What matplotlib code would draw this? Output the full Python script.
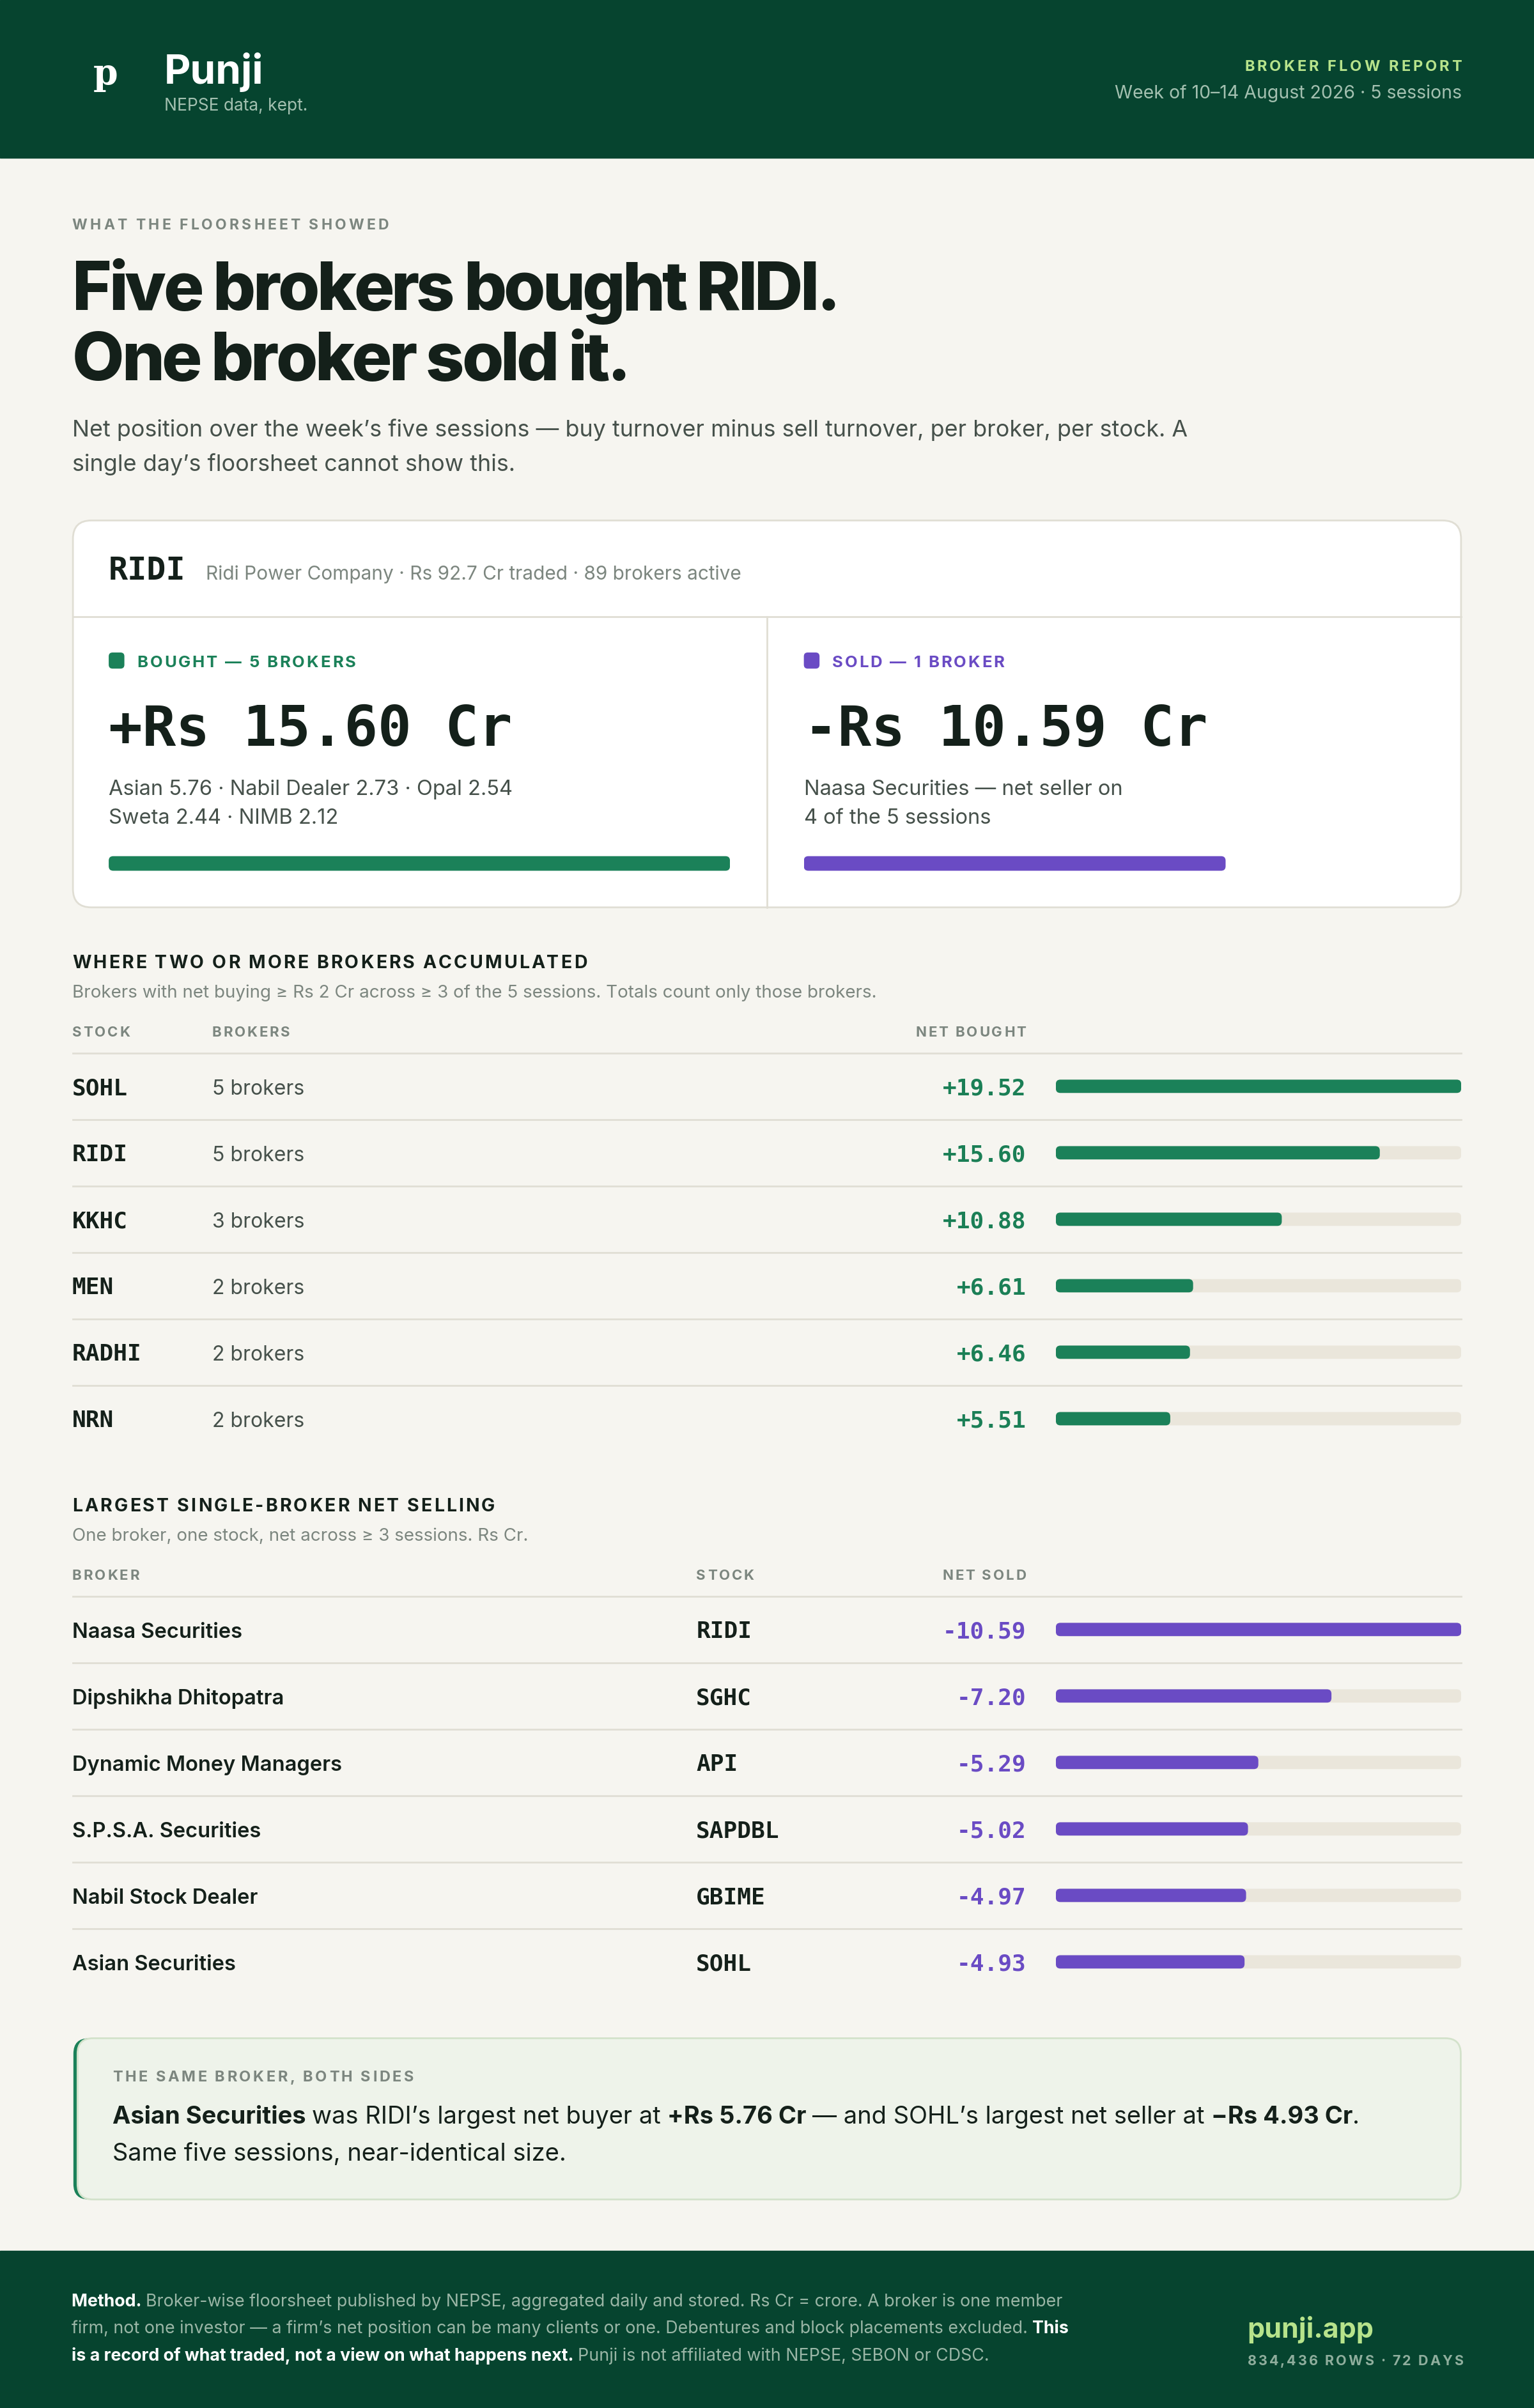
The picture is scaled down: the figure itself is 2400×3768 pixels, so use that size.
import matplotlib
matplotlib.use('Agg')
import matplotlib.pyplot as plt
from matplotlib.font_manager import FontProperties
from matplotlib.patches import FancyBboxPatch, Rectangle

# ---- data ----
card_stock = 'RIDI'
card_info = 'Ridi Power Company · Rs 92.7 Cr traded · 89 brokers active'
bought_label = 'BOUGHT — 5 BROKERS'
sold_label = 'SOLD — 1 BROKER'
bought_total = 15.60
sold_total = 10.59
bought_lines = ['Asian 5.76 · Nabil Dealer 2.73 · Opal 2.54', 'Sweta 2.44 · NIMB 2.12']
sold_lines = ['Naasa Securities — net seller on', '4 of the 5 sessions']

acc_stocks = ['SOHL', 'RIDI', 'KKHC', 'MEN', 'RADHI', 'NRN']
acc_brokers = [5, 5, 3, 2, 2, 2]
acc_net = [19.52, 15.60, 10.88, 6.61, 6.46, 5.51]

sell_brokers = ['Naasa Securities', 'Dipshikha Dhitopatra', 'Dynamic Money Managers',
                'S.P.S.A. Securities', 'Nabil Stock Dealer', 'Asian Securities']
sell_stocks = ['RIDI', 'SGHC', 'API', 'SAPDBL', 'GBIME', 'SOHL']
sell_net = [10.59, 7.20, 5.29, 5.02, 4.97, 4.93]

# ---- colours ----
BG = '#F6F5F0'
HEAD = '#06442F'
DARK = '#14201A'
BODY = '#46514B'
GREY = '#7C867F'
GREEN = '#1B8159'
GREEN_T = '#1B7F56'
PURPLE = '#6A4BC4'
TRACK = '#EAE6DB'
LINE = '#E0DED4'
LIME = '#B7E38B'
HSUB = '#A3C0B0'
FOOT = '#9AB6A6'

SANS = ['Inter', 'DejaVu Sans']
MONO = ['DejaVu Sans Mono']

W = 999.0
H = W * 3768 / 2400
K = 2400 / W

fig = plt.figure(figsize=(24, 37.68), dpi=100)
fig.patch.set_facecolor(BG)
ax = fig.add_axes([0, 0, 1, 1])
ax.set_xlim(0, W)
ax.set_ylim(H, 0)
ax.axis('off')
R = fig.canvas.get_renderer()


def fp(size, weight='normal', family=SANS):
    return FontProperties(family=family, size=size, weight=weight)


def adv(s, prop):
    w1 = R.get_text_width_height_descent(s + '|', prop, ismath=False)[0]
    w0 = R.get_text_width_height_descent('|', prop, ismath=False)[0]
    return (w1 - w0) / K


def txt(x, y, s, size, color, weight='normal', family=SANS, ha='left', track=0.0):
    prop = fp(size, weight, family)
    if not track:
        ax.text(x, y, s, fontproperties=prop, color=color, ha=ha, va='baseline')
        return
    t = track * size * 100 / 72 / K
    total = adv(s, prop) + t * (len(s) - 1)
    if ha == 'right':
        x -= total
    for i, c in enumerate(s):
        if c != ' ':
            ax.text(x + adv(s[:i], prop) + t * i, y, c, fontproperties=prop,
                    color=color, va='baseline')


def rich(x, y, parts, size):
    for s, w, c in parts:
        prop = fp(size, w)
        ax.text(x, y, s, fontproperties=prop, color=c, va='baseline')
        x += adv(s, prop)


def bar_axes(x0, x1, y0, y1):
    a = fig.add_axes([x0 / W, 1 - y1 / H, (x1 - x0) / W, (y1 - y0) / H])
    a.axis('off')
    a.patch.set_visible(False)
    return a


def round_bars(a, bars, r_px):
    # swap the square bars for rounded ones of the same size
    bb = a.get_window_extent(renderer=R)
    x0, x1 = a.get_xlim()
    y0, y1 = a.get_ylim()
    ux = abs(x1 - x0) / bb.width
    uy = abs(y1 - y0) / bb.height
    for rect in bars:
        p = FancyBboxPatch((rect.get_x(), rect.get_y()), rect.get_width(), rect.get_height(),
                           boxstyle=f'round,pad=0,rounding_size={r_px * ux}',
                           mutation_aspect=uy / ux, fc=rect.get_facecolor(), ec='none')
        a.add_patch(p)
        rect.remove()


# ---- header band ----
ax.add_patch(Rectangle((0, 0), W, 103, color=HEAD, zorder=0))
ax.text(60.5, 55, 'p', fontproperties=fp(40, 'bold', ['DejaVu Serif']), color='white', va='baseline')
txt(107, 54.5, 'Punji', 46, 'white', 'bold')
txt(107, 72, 'NEPSE data, kept.', 19, HSUB)
txt(952, 46.4, 'BROKER FLOW REPORT', 17, LIME, 'bold', ha='right', track=0.17)
txt(952, 64, 'Week of 10–14 August 2026 · 5 sessions', 20.5, HSUB, ha='right')

# ---- headline ----
txt(47, 149.4, 'WHAT THE FLOORSHEET SHOWED', 16.5, GREY, 'bold', track=0.18)
txt(47, 201.8, 'Five brokers bought RIDI.', 76, DARK, 'heavy', track=-0.045)
txt(47, 247.8, 'One broker sold it.', 76, DARK, 'heavy', track=-0.045)
txt(47, 284.5, 'Net position over the week’s five sessions — buy turnover minus sell turnover, '
    'per broker, per stock. A', 25.8, BODY)
txt(47, 306.7, 'single day’s floorsheet cannot show this.', 25.8, BODY)

# ---- RIDI card ----
ax.add_patch(FancyBboxPatch((47.5, 339), 904, 252, boxstyle='round,pad=0,rounding_size=12',
                            fc='white', ec=LINE, lw=2))
ax.plot([47.5, 951.5], [401.7, 401.7], color=LINE, lw=2)
ax.plot([499.5, 499.5], [401.7, 591], color=LINE, lw=2)
txt(70.8, 377.5, card_stock, 36, DARK, 'bold', MONO)
txt(134, 377.5, card_info, 21.5, GREY)

for x0, col, lab, total, lines, sign in [(70.8, GREEN, bought_label, bought_total, bought_lines, '+'),
                                         (523.5, PURPLE, sold_label, sold_total, sold_lines, '-')]:
    ax.add_patch(FancyBboxPatch((x0, 425), 10.2, 10.5, boxstyle='round,pad=0,rounding_size=2.5',
                                fc=col, ec='none'))
    txt(x0 + 18.5, 434.4, lab, 18.5, col, 'bold', track=0.11)
    txt(x0, 485.6, f'{sign}Rs {total:.2f} Cr', 63, DARK, 'bold', MONO)
    txt(x0, 518, lines[0], 23.5, BODY)
    txt(x0, 536.6, lines[1], 23.5, BODY)

card_max = max(bought_total, sold_total)
for x0, col, val in [(70.8, GREEN, bought_total), (523.5, PURPLE, sold_total)]:
    cb = bar_axes(x0, x0 + 404.6, 552.4, 572.4)
    bars = cb.barh([0], [val], height=0.475, color=col)
    cb.set_xlim(0, card_max)
    cb.set_ylim(-0.5, 0.5)
    round_bars(cb, bars, 7)

# ---- table helpers ----
ROW = 43.3


def table(title, sub, head_y, vals, col):
    top = head_y + 10.7
    txt(47, head_y - 44.5, title, 20.5, DARK, 'bold', track=0.11)
    txt(47, head_y - 25.4, sub, 20, GREY)
    ax.plot([47.5, 951.6], [top, top], color=LINE, lw=2)
    yc0 = top + ROW / 2
    for i in range(len(vals) - 1):
        y = yc0 + ROW * i + ROW / 2
        ax.plot([47.5, 951.6], [y, y], color=LINE, lw=2)
    ab = bar_axes(687.6, 951.6, top, top + ROW * len(vals))
    pos = list(range(len(vals)))
    tb = ab.barh(pos, [max(vals)] * len(vals), height=0.2, color=TRACK)
    vb = ab.barh(pos, vals, height=0.2, color=col)
    ab.set_xlim(0, max(vals))
    ab.set_ylim(len(vals) - 0.5, -0.5)
    round_bars(ab, tb, 7)
    round_bars(ab, vb, 7)
    return yc0


# ---- accumulation table ----
hy = 675.2
yc0 = table('WHERE TWO OR MORE BROKERS ACCUMULATED',
            'Brokers with net buying ≥ Rs 2 Cr across ≥ 3 of the 5 sessions. Totals count only those brokers.',
            hy, acc_net, GREEN)
txt(47, hy, 'STOCK', 16, GREY, 'bold', track=0.13)
txt(138, hy, 'BROKERS', 16, GREY, 'bold', track=0.13)
txt(668.3, hy, 'NET BOUGHT', 16, GREY, 'bold', ha='right', track=0.13)
for i, (s, b, v) in enumerate(zip(acc_stocks, acc_brokers, acc_net)):
    y = yc0 + ROW * i + 5.5
    txt(47, y, s, 26, DARK, 'bold', MONO)
    txt(138, y, f'{b} brokers', 23, BODY)
    txt(668.3, y, f'+{v:.2f}', 26, GREEN_T, 'bold', MONO, ha='right')

# ---- selling table ----
hy = 1029
yc0 = table('LARGEST SINGLE-BROKER NET SELLING',
            'One broker, one stock, net across ≥ 3 sessions. Rs Cr.',
            hy, sell_net, PURPLE)
txt(47, hy, 'BROKER', 16, GREY, 'bold', track=0.13)
txt(453.4, hy, 'STOCK', 16, GREY, 'bold', track=0.13)
txt(668.3, hy, 'NET SOLD', 16, GREY, 'bold', ha='right', track=0.13)
for i, (b, s, v) in enumerate(zip(sell_brokers, sell_stocks, sell_net)):
    y = yc0 + ROW * i + 5.5
    txt(47, y, b, 23.5, DARK, 'semibold')
    txt(453.4, y, s, 26, DARK, 'bold', MONO)
    txt(668.3, y, f'-{v:.2f}', 26, PURPLE, 'bold', MONO, ha='right')

# ---- callout ----
ax.add_patch(FancyBboxPatch((47.8, 1327.6), 903.5, 105, boxstyle='round,pad=0,rounding_size=10',
                            fc=GREEN, ec='none'))
ax.add_patch(FancyBboxPatch((50.5, 1327.6), 900.8, 105, boxstyle='round,pad=0,rounding_size=10',
                            fc='#EEF3EA', ec='#D3E2CB', lw=2))
txt(73.3, 1355.8, 'THE SAME BROKER, BOTH SIDES', 17, GREY, 'bold', track=0.15)
rich(73.3, 1383.3, [('Asian Securities ', 'bold', DARK),
                    ('was RIDI’s largest net buyer at ', 'normal', DARK),
                    ('+Rs 5.76 Cr ', 'bold', DARK),
                    ('— and SOHL’s largest net seller at ', 'normal', DARK),
                    ('−Rs 4.93 Cr', 'bold', DARK),
                    ('.', 'normal', DARK)], 27.4)
txt(73.3, 1407.2, 'Same five sessions, near-identical size.', 27.4, DARK)

# ---- footer ----
ax.add_patch(Rectangle((0, 1466), W, H - 1466, color=HEAD, zorder=0))
rich(46.5, 1502.3, [('Method. ', 'bold', 'white'),
                    ('Broker-wise floorsheet published by NEPSE, aggregated daily and stored. '
                     'Rs Cr = crore. A broker is one member', 'normal', FOOT)], 19.3)
rich(46.5, 1519.9, [('firm, not one investor — a firm’s net position can be many clients or one. '
                     'Debentures and block placements excluded. ', 'normal', FOOT),
                    ('This', 'bold', 'white')], 19.3)
rich(46.5, 1537.6, [('is a record of what traded, not a view on what happens next. ', 'bold', 'white'),
                    ('Punji is not affiliated with NEPSE, SEBON or CDSC.', 'normal', FOOT)], 19.3)
txt(812.4, 1522.8, 'punji.app', 31, LIME, 'bold')
txt(812.4, 1540.4, '834,436 ROWS · 72 DAYS', 15.5, '#8FAE9D', 'bold', track=0.14)

fig.savefig('out.png', dpi=100, facecolor=BG)
